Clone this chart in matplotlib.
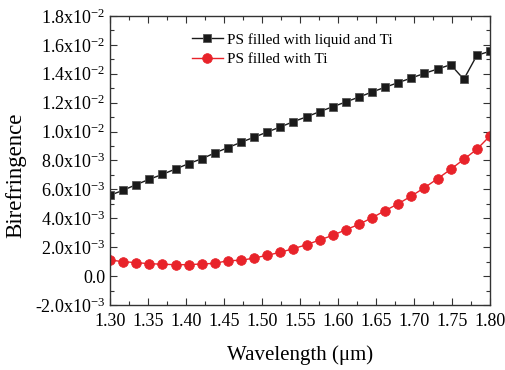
import numpy as np
import matplotlib
matplotlib.use("Agg")
import matplotlib.pyplot as plt
from matplotlib.ticker import MultipleLocator, FixedLocator, FuncFormatter

plt.rcParams['font.family'] = ['Liberation Serif', 'DejaVu Serif']
plt.rcParams['mathtext.fontset'] = 'custom'
plt.rcParams['mathtext.rm'] = 'Liberation Serif'
plt.rcParams['mathtext.it'] = 'Liberation Serif:italic'

wavelength = np.linspace(1.30, 1.80, 30)
liquid_ti = [5.59, 5.94, 6.33, 6.70, 7.04, 7.41, 7.78, 8.12, 8.52, 8.89,
             9.26, 9.61, 9.97, 10.32, 10.69, 11.02, 11.38, 11.72, 12.05, 12.39,
             12.74, 13.07, 13.39, 13.71, 14.03, 14.33, 14.63, 13.62, 15.28, 15.56]
ti_only = [1.11, 1.00, 0.93, 0.86, 0.82, 0.79, 0.79, 0.84, 0.88, 1.07,
           1.09, 1.25, 1.44, 1.65, 1.90, 2.17, 2.50, 2.82, 3.21, 3.58,
           4.04, 4.53, 5.01, 5.54, 6.12, 6.74, 7.39, 8.08, 8.78, 9.70]
liquid_ti = np.array(liquid_ti) * 1e-3
ti_only = np.array(ti_only) * 1e-3

labels = ["PS filled with liquid and Ti", "PS filled with Ti"]
x_ticks = [1.30, 1.35, 1.40, 1.45, 1.50, 1.55, 1.60, 1.65, 1.70, 1.75, 1.80]
y_ticks = [-2e-3, 0, 2e-3, 4e-3, 6e-3, 8e-3, 1.0e-2, 1.2e-2, 1.4e-2, 1.6e-2, 1.8e-2]

fig = plt.figure(figsize=(5.06, 3.70), dpi=100)
ax = fig.add_axes([0.2174, 0.1757, 0.751, 0.7811])

ax.plot(wavelength, liquid_ti, color='#1a1a1a', lw=1.0, marker='s', ms=6.3,
        mfc='#1a1a1a', mec='#555555', mew=0.6, label=labels[0])
ax.plot(wavelength, ti_only, color='#e8232a', lw=1.0, marker='o', ms=7,
        mfc='#e8232a', mec='#e8232a', mew=0.5, label=labels[1])

ax.set_xlim(1.30, 1.80)
ax.set_ylim(-2e-3, 1.8e-2)
ax.xaxis.set_major_locator(FixedLocator(x_ticks))
ax.xaxis.set_minor_locator(MultipleLocator(0.025))
ax.yaxis.set_major_locator(FixedLocator(y_ticks))
ax.yaxis.set_minor_locator(MultipleLocator(1e-3))
ax.xaxis.set_major_formatter(FuncFormatter(lambda v, p: f"{v:.2f}"))

def yfmt(v, p):
    if abs(v) < 1e-9:
        return "0.0"
    e = int(np.floor(np.log10(abs(v)) + 1e-9))
    m = v / 10 ** e
    return r"%.1fx10$^{\mathregular{%d}}$" % (m, e)

ax.yaxis.set_major_formatter(FuncFormatter(yfmt))
ax.tick_params(which='both', direction='in', top=True, right=True, labelsize=13,
               color='#333333', width=0.8)
ax.tick_params(axis='x', pad=6)
ax.tick_params(which='major', length=5)
ax.tick_params(which='minor', length=3)
for s in ax.spines.values():
    s.set_linewidth(1.0)
    s.set_color('#333333')

ax.set_xlabel("Wavelength (μm)", fontsize=15, labelpad=11)
ax.set_ylabel("Birefringence", fontsize=16.5)
ax.yaxis.set_label_coords(-0.219, 0.45)

ax.legend(loc='upper left', bbox_to_anchor=(0.216, 0.942), frameon=False,
          fontsize=11, handlelength=2.0, handletextpad=0.3, labelspacing=0.4,
          borderpad=0, borderaxespad=0)

fig.savefig("out.png", dpi=100)
